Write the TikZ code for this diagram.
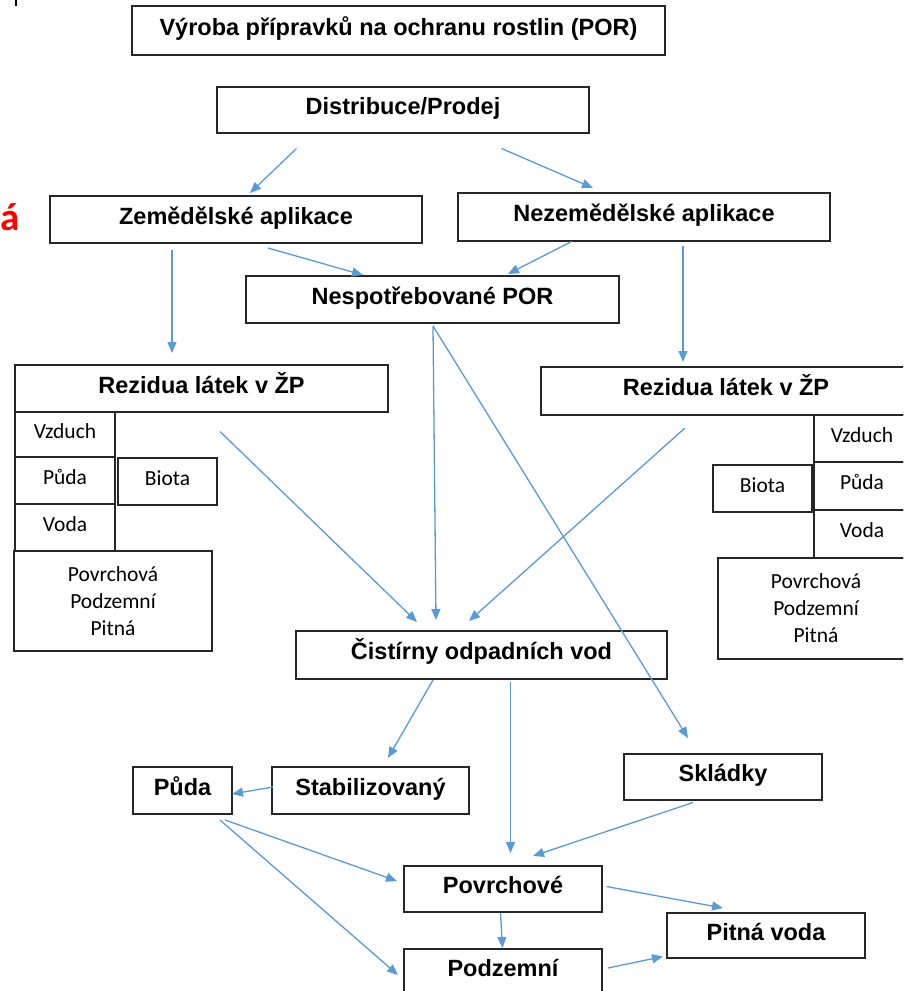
\documentclass[tikz,border=0pt]{standalone}
\usepackage{fontspec}
\setmainfont{Liberation Sans}
\newfontfamily\calfont{Carlito}
\usetikzlibrary{arrows.meta}
\definecolor{arr}{RGB}{91,155,213}
\definecolor{bord}{RGB}{38,38,38}
\begin{document}
\begin{tikzpicture}[x=1pt,y=-1pt,
  title/.style={draw=bord, line width=1.3pt, inner sep=0pt,
    font=\bfseries\fontsize{23.5}{28}\selectfont, text height=17pt, text depth=8pt},
  small/.style={draw=bord, line width=1.2pt, inner sep=0pt,
    font=\calfont\fontsize{21.5}{27}\selectfont, text height=14pt, text depth=7pt},
  multi/.style={draw=bord, line width=1.2pt, inner sep=0pt, align=center,
    font=\calfont\fontsize{21.5}{27}\selectfont},
  arrow/.style={draw=arr, line width=1.3pt, -{Triangle[length=11pt,width=9pt]}}
]
\clip (0,0) rectangle (903,991);
\fill[white] (0,0) rectangle (903,991);

% small mark and partial red letter at the left edge
\coordinate (m1) at (16,0);
\coordinate (m2) at (16,6);
\draw[line width=1.6pt] (m1) -- (m2);
\node[anchor=base east, inner sep=0pt, text=red, font=\calfont\bfseries\fontsize{39}{44}\selectfont] (redA) at (20,230) {á};

% title boxes
\node[title, minimum width=533pt, minimum height=49pt] (vyroba) at (398.5,30.5) {Výroba přípravků na ochranu rostlin (POR)};
\node[title, minimum width=372pt, minimum height=46pt] (distr) at (403,110) {Distribuce/Prodej};
\node[title, minimum width=372pt, minimum height=47pt] (zem) at (236,219.5) {Zemědělské aplikace};
\node[title, minimum width=372pt, minimum height=48pt] (nezem) at (644,217) {Nezemědělské aplikace};
\node[title, minimum width=373pt, minimum height=47pt] (nesp) at (432.5,299.5) {Nespotřebované POR};
\node[title, minimum width=373pt, minimum height=47pt] (rezL) at (201.5,388.5) {Rezidua látek v ŽP};
\node[title, minimum width=370pt, minimum height=48pt] (rezR) at (726,391) {Rezidua látek v ŽP};
\node[title, minimum width=371pt, minimum height=48pt] (cist) at (481.5,655) {Čistírny odpadních vod};
\node[title, minimum width=99pt, minimum height=47pt] (pudaB) at (182.5,790.5) {Půda};
\node[title, minimum width=197pt, minimum height=47pt] (stab) at (370.5,790.5) {Stabilizovaný};
\node[title, minimum width=198pt, minimum height=46pt] (skl) at (723,777) {Skládky};
\node[title, minimum width=198pt, minimum height=46pt] (povB) at (503,889) {Povrchové};
\node[title, minimum width=198pt, minimum height=45pt] (pitna) at (766,935.5) {Pitná voda};
\node[title, minimum width=198pt, minimum height=46pt] (podz) at (503,972) {Podzemní};

% left compartments
\node[small, minimum width=100pt, minimum height=45pt] (vzL) at (65,434.5) {Vzduch};
\node[small, minimum width=100pt, minimum height=47pt] (pudaL) at (65,480.5) {Půda};
\node[small, minimum width=100pt, minimum height=47pt] (vodaL) at (65,527.5) {Voda};
\node[small, minimum width=99pt, minimum height=47pt] (biotaL) at (167.5,481.5) {Biota};
\node[multi, minimum width=198pt, minimum height=100pt] (povL) at (113,601) {Povrchová\\Podzemní\\Pitná};

% right compartments
\node[small, minimum width=96pt, minimum height=47pt] (vzR) at (862,438.5) {Vzduch};
\node[small, minimum width=96pt, minimum height=48pt] (pudaR) at (862,486) {Půda};
\node[small, minimum width=96pt, minimum height=48pt] (vodaR) at (862,534) {Voda};
\node[small, minimum width=99pt, minimum height=47pt] (biotaR) at (762.5,488.5) {Biota};
\node[multi, minimum width=196pt, minimum height=101pt] (povR) at (816,608.5) {Povrchová\\Podzemní\\Pitná};

% connector end points
\coordinate (a1s) at (296.5,148.5);  \coordinate (a1e) at (250,193);
\coordinate (a2s) at (501.5,148.5);  \coordinate (a2e) at (593,188);
\coordinate (a3s) at (268,248);      \coordinate (a3e) at (363,275);
\coordinate (a4s) at (571.5,241.5);  \coordinate (a4e) at (508,274);
\coordinate (a5s) at (172,250);      \coordinate (a5e) at (172,353);
\coordinate (a6s) at (683,246);      \coordinate (a6e) at (683,362);
\coordinate (a7s) at (220,431.5);    \coordinate (a7e) at (417,622);
\coordinate (a8s) at (433,327);      \coordinate (a8e) at (436,620);
\coordinate (a9s) at (685,428);      \coordinate (a9e) at (469,621);
\coordinate (a10s) at (433,326);     \coordinate (a10e) at (688,738);
\coordinate (a11s) at (433,680);     \coordinate (a11e) at (388,758);
\coordinate (a12s) at (510.5,681.5); \coordinate (a12e) at (510.5,853);
\coordinate (a13s) at (273,787);     \coordinate (a13e) at (232,794);
\coordinate (a14s) at (225,820);     \coordinate (a14e) at (397,881);
\coordinate (a15s) at (220,820);     \coordinate (a15e) at (398,975);
\coordinate (a16s) at (693,802.5);   \coordinate (a16e) at (533,856);
\coordinate (a17s) at (500.5,913);   \coordinate (a17e) at (502.5,948);
\coordinate (a18s) at (606.5,886.5); \coordinate (a18e) at (723,908);
\coordinate (a19s) at (608,968);     \coordinate (a19e) at (663,956.5);

\foreach \i in {1,...,19} {\draw[arrow] (a\i s) -- (a\i e);}
\end{tikzpicture}
\end{document}
